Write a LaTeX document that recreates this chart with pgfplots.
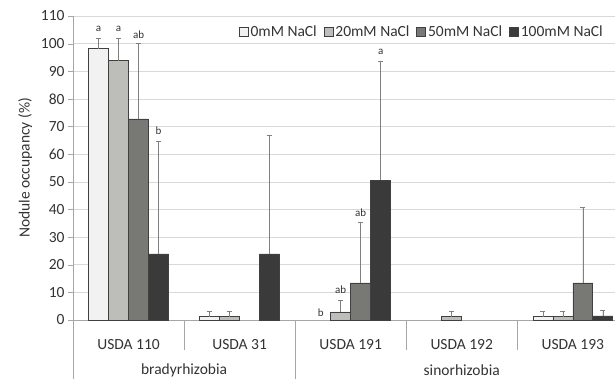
\documentclass[border=0pt]{standalone}
\usepackage{pgfplots}
\pgfplotsset{compat=1.18}
\usepackage{fontspec}
\setmainfont{Carlito}
\definecolor{cA}{HTML}{F2F2F2}
\definecolor{cB}{HTML}{BDBDB9}
\definecolor{cC}{HTML}{787874}
\definecolor{cD}{HTML}{3A3A3A}
\definecolor{edge}{HTML}{404040}
\definecolor{axgray}{HTML}{A6A6A6}
\definecolor{txt}{HTML}{333333}
\begin{document}
\begin{tikzpicture}
\path[use as bounding box] (-73pt,-59pt) rectangle (542pt,320pt);
\begin{axis}[
  scale only axis, width=542pt, height=304pt,
  at={(0,0)}, anchor=south west,
  xmin=-0.5, xmax=4.38, ymin=0, ymax=110,
  ybar=0pt, bar width=0.18,
  axis x line=bottom, axis y line=left,
  axis line style={axgray,-},
  ytick={0,10,...,110},
  ymajorgrids, grid style={draw=black!15, line width=0.6pt},
  xtick={0,1,2,3,4},
  xticklabels={USDA 110, USDA 31, USDA 191, USDA 192, USDA 193},
  x tick label style={anchor=center, yshift=-20pt},
  major x tick style={draw=none},
  y tick style={axgray}, tick align=outside, major tick length=5pt,
  /pgf/number format/assume math mode=true,
  tick label style={font=\fontsize{15.5}{18}\selectfont, text=txt},
  ylabel={Nodule occupancy (\%)},
  ylabel style={font=\fontsize{15.5}{18}\selectfont, text=txt, yshift=2pt},
  clip=false,
  every axis plot/.append style={draw=edge, line width=0.6pt},
  error bars/y dir=plus, error bars/y explicit,
  error bars/error bar style={draw=gray, line width=0.5pt},
  error bars/error mark options={rotate=90, mark size=2.5pt, draw=gray, line width=0.5pt},
  legend columns=4,
  legend style={draw=none, fill=none, at={(0.987,0.947)}, anchor=east,
    font=\fontsize{15.5}{18}\selectfont, text=txt,
    /tikz/every even column/.append style={column sep=5pt}},
  legend image code/.code={\draw[#1] (0pt,-4.5pt) rectangle (9pt,4.5pt);},
]
\addplot[fill=cA] coordinates {(0,98.2) +- (0,3.8) (1,1.2) +- (0,1.8) (4,1.2) +- (0,1.8)};
\addplot[fill=cB] coordinates {(0,93.8) +- (0,8.0) (1,1.2) +- (0,1.8) (2,2.9) +- (0,4.3) (3,1.2) +- (0,1.8) (4,1.2) +- (0,1.8)};
\addplot[fill=cC] coordinates {(0,72.8) +- (0,27.2) (2,13.4) +- (0,22.1) (4,13.4) +- (0,27.4)};
\addplot[fill=cD] coordinates {(0,23.9) +- (0,40.9) (1,23.9) +- (0,42.8) (2,50.5) +- (0,43.3) (4,1.5) +- (0,2.1)};
\legend{0mM NaCl, 20mM NaCl, 50mM NaCl, 100mM NaCl}
% significance letters
\begin{scope}[every node/.style={font=\fontsize{11}{13}\selectfont, text=txt, inner sep=0pt}]
\node at (axis cs:-0.27,105.4) {a};
\node at (axis cs:-0.09,105.4) {a};
\node at (axis cs:0.09,103.3) {ab};
\node at (axis cs:0.27,68.5) {b};
\node at (axis cs:1.73,2.6) {b};
\node at (axis cs:1.91,10.9) {ab};
\node at (axis cs:2.09,38.8) {ab};
\node at (axis cs:2.27,97.1) {a};
\end{scope}
% category separators
\draw[axgray, line width=0.6pt] (axis cs:-0.5,0) -- ([yshift=-59pt]axis cs:-0.5,0);
\draw[axgray, line width=0.6pt] (axis cs:0.5,0) -- ([yshift=-30pt]axis cs:0.5,0);
\draw[axgray, line width=0.6pt] (axis cs:1.5,0) -- ([yshift=-59pt]axis cs:1.5,0);
\draw[axgray, line width=0.6pt] (axis cs:2.5,0) -- ([yshift=-30pt]axis cs:2.5,0);
\draw[axgray, line width=0.6pt] (axis cs:3.5,0) -- ([yshift=-30pt]axis cs:3.5,0);
\node[font=\fontsize{15.5}{18}\selectfont, text=txt] at ([yshift=-50pt]axis cs:0.5,0) {bradyrhizobia};
\node[font=\fontsize{15.5}{18}\selectfont, text=txt] at ([yshift=-50pt]axis cs:3,0) {sinorhizobia};
\end{axis}
\end{tikzpicture}
\end{document}
